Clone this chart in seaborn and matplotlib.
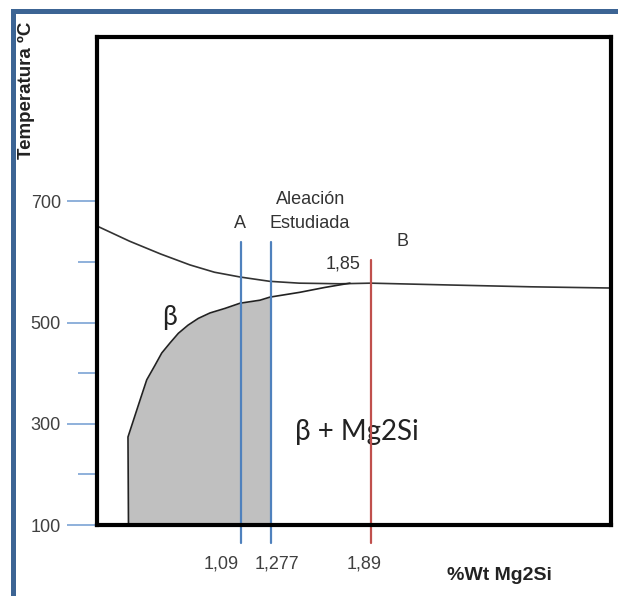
import numpy as np
import pandas as pd
import matplotlib
matplotlib.use("Agg")
import matplotlib.pyplot as plt
from matplotlib.patches import Rectangle
from matplotlib.ticker import FixedLocator, NullFormatter
from matplotlib.transforms import ScaledTranslation
import seaborn as sns

# ---------------- data ----------------
liquidus_x = [0.21, 0.41, 0.60, 0.78, 0.93, 1.09, 1.27, 1.45, 1.70, 1.89, 2.37, 2.87, 3.36]
liquidus_T = [659, 634, 613, 595, 583, 575, 568, 565, 564, 565, 562, 559, 557]

solvus_x = [0.403, 0.400, 0.474, 0.515, 0.566, 0.607, 0.658, 0.709, 0.768, 0.831, 0.903,
            0.995, 1.087, 1.21, 1.27, 1.455, 1.608, 1.761]
solvus_T = [100, 274, 347, 387, 416, 440, 460, 479, 495, 507, 516,
            523.5, 532, 537, 542, 550, 558, 565]

alloy_x = [1.09, 1.277, 1.89]
alloy_labels = ["1,09", "1,277", "1,89"]
alloy_top = [633, 633, 603]

y_major = [100, 300, 500, 700]
y_minor = [200, 400, 600]
studied_alloy = 1.277

# ---------------- style ----------------
sns.set_theme(style="white")
plt.rcParams["font.family"] = ["Liberation Sans", "DejaVu Sans"]

W, H = 618, 596
fig = plt.figure(figsize=(W / 100, H / 100), dpi=100)
fig.patch.set_facecolor("white")

# blue frame
frame_c = "#3c6494"
fig.add_artist(Rectangle((11 / W, 1 - 14 / H), (W - 11) / W, 5 / H,
                         transform=fig.transFigure, color=frame_c, lw=0))
fig.add_artist(Rectangle((11 / W, 0), 5 / W, 1 - 9 / H,
                         transform=fig.transFigure, color=frame_c, lw=0))

ax = fig.add_axes([97 / W, 1 - 525 / H, 514 / W, 488 / H])
ax.set_facecolor("white")


def fwd(T):
    T = np.asarray(T, float)
    return np.where(T <= 500, (T - 100) * 0.506, 202.4 + (T - 500) * 0.608)


def inv(p):
    p = np.asarray(p, float)
    return np.where(p <= 202.4, 100 + p / 0.506, 500 + (p - 202.4) / 0.608)


ax.set_yscale("function", functions=(fwd, inv))
ax.set_xlim(0.21, 3.362)
ax.set_ylim(100, 970)

# shaded beta region, clipped at the studied alloy
poly = ax.fill_between(solvus_x, solvus_T, 100, color="#c0c0c0", lw=0, zorder=1)
clip = Rectangle((0, 0), studied_alloy, 2000, transform=ax.transData)
poly.set_clip_path(clip)

liq = pd.DataFrame({"x": liquidus_x, "T": liquidus_T})
sol = pd.DataFrame({"x": solvus_x, "T": solvus_T})
sns.lineplot(data=liq, x="x", y="T", sort=False, estimator=None, color="#333333", lw=1.2, ax=ax, zorder=2)
sns.lineplot(data=sol, x="x", y="T", sort=False, estimator=None, color="#222222", lw=1.2, ax=ax, zorder=2)

line_colors = ["#4f81bd", "#4f81bd", "#c0504d"]
for x, top, c in zip(alloy_x, alloy_top, line_colors):
    ax.plot([x, x], [64, top], color=c, lw=1.6, clip_on=False, zorder=4)

# axes frame
for s in ax.spines.values():
    s.set_color("black")
    s.set_linewidth(3)
    s.set_zorder(5)

# ticks
ax.yaxis.set_major_locator(FixedLocator(y_major))
ax.yaxis.set_minor_locator(FixedLocator(y_minor))
ax.yaxis.set_minor_formatter(NullFormatter())
ax.set_yticklabels([str(v) for v in y_major])
ax.tick_params(axis="y", which="major", direction="out", length=21.6, width=1.2,
               color="#7ba3d4", labelsize=13, labelcolor="#404040", pad=4.3, left=True)
ax.tick_params(axis="y", which="minor", direction="out", length=13.7, width=1.2,
               color="#7ba3d4", left=True)
ax.set_xticks(alloy_x)
ax.set_xticklabels(alloy_labels)
ax.tick_params(axis="x", which="both", length=0, labelsize=13, labelcolor="#404040", pad=22)
label_shift_px = [-19, 6, -7]
for lbl, dx in zip(ax.get_xticklabels(), label_shift_px):
    lbl.set_transform(lbl.get_transform() + ScaledTranslation(dx / 100, 0, fig.dpi_scale_trans))
ax.set_xlabel("")
ax.set_ylabel("")


def axpos(px, py):
    return ((px - 97) / 514, (525 - py) / 488)


txt_c = "#333333"
ax.text(*axpos(240, 223), "A", transform=ax.transAxes, ha="center", va="center", fontsize=13, color=txt_c)
ax.text(*axpos(311, 200), "Aleación", transform=ax.transAxes, ha="center", va="center", fontsize=13, color=txt_c)
ax.text(*axpos(310, 223), "Estudiada", transform=ax.transAxes, ha="center", va="center", fontsize=13, color=txt_c)
ax.text(*axpos(402, 242), "B", transform=ax.transAxes, ha="center", va="center", fontsize=13, color=txt_c)
ax.text(*axpos(343, 264), "1,85", transform=ax.transAxes, ha="center", va="center", fontsize=13, color=txt_c)
ax.text(*axpos(170, 318), "β", transform=ax.transAxes, ha="center", va="center", fontsize=19,
        color="#222222", family=["Lato", "DejaVu Sans"])
ax.text(*axpos(357, 432), "β + Mg2Si", transform=ax.transAxes, ha="center", va="center", fontsize=20,
        color="#222222", family=["Lato", "DejaVu Sans"])

fig.text(499 / W, 1 - 575 / H, "%Wt Mg2Si", ha="center", va="center", fontsize=14,
         fontweight="bold", color="#222222")
fig.text(26 / W, 1 - 90 / H, "Temperatura ºC", ha="center", va="center", rotation=90,
         fontsize=13.5, fontweight="bold", color="#222222")

fig.savefig("out.png", dpi=100)
